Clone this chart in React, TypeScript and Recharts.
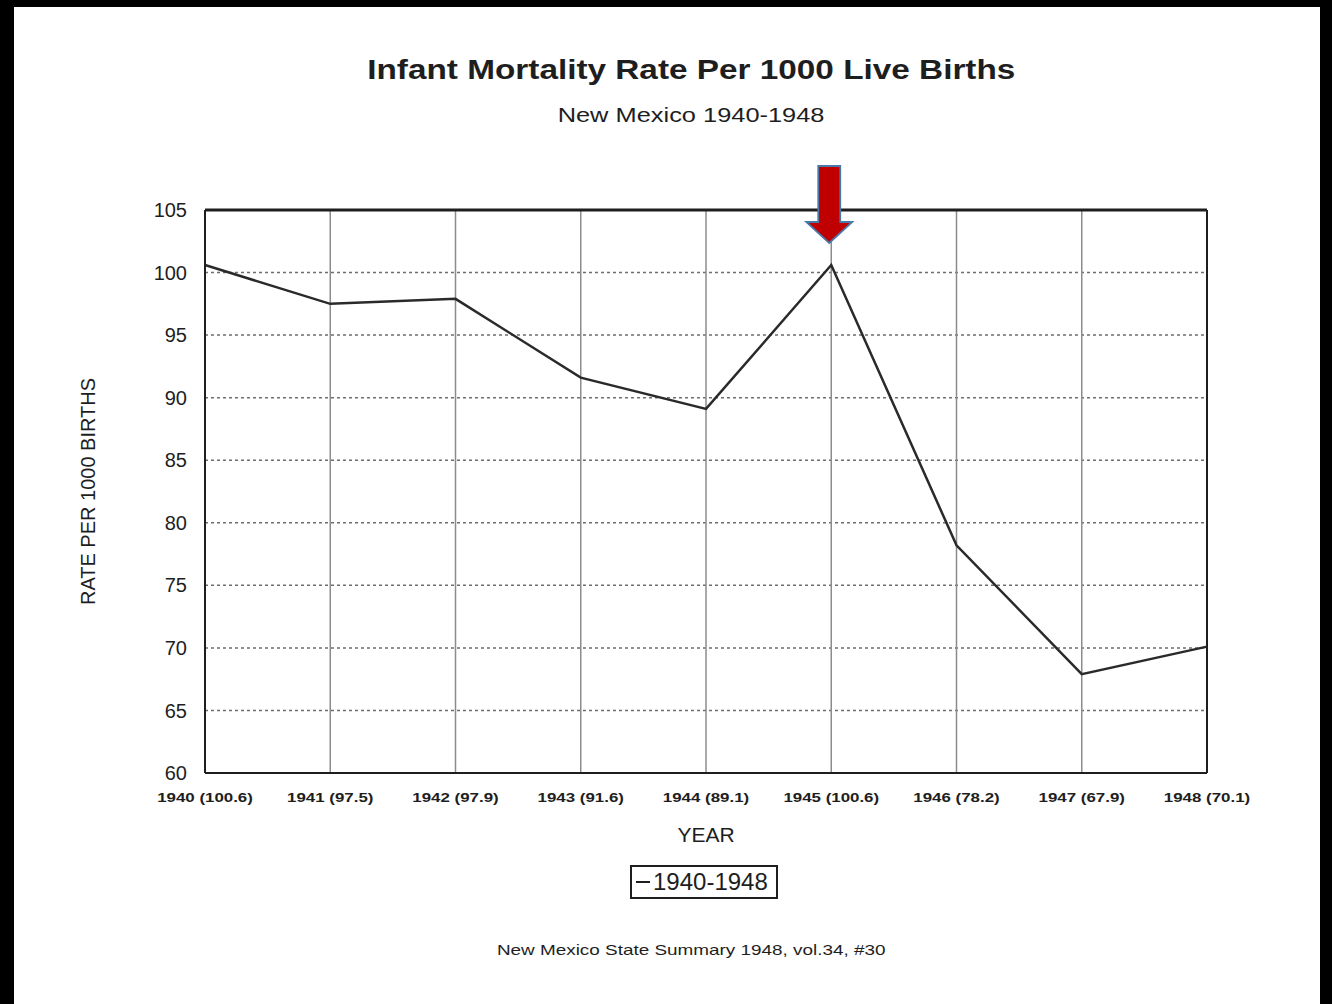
import React from "react";
import {
  LineChart, Line, XAxis, YAxis, CartesianGrid, ReferenceLine, ReferenceDot, Legend,
} from "recharts";

const YEARS = ["1940", "1941", "1942", "1943", "1944", "1945", "1946", "1947", "1948"];
const RATES = [100.6, 97.5, 97.9, 91.6, 89.1, 100.6, 78.2, 67.9, 70.1];
const Y_TICKS = [60, 65, 70, 75, 80, 85, 90, 95, 100, 105];

const data = YEARS.map((y, i) => ({ label: `${y} (${RATES[i]})`, rate: RATES[i] }));

const FONT = '"Liberation Sans", Arial, sans-serif';
const INK = "#1e1e1e";

function XTick({ x, y, payload }: any) {
  return (
    <g transform={`translate(${x},${y})`}>
      <text transform="scale(1.3,1)" x={0} y={21} textAnchor="middle" fontSize={13} fontWeight={700} fill={INK} fontFamily={FONT}>
        {payload.value}
      </text>
    </g>
  );
}

function Arrow({ cx, cy }: any) {
  const c = cx - 2;
  const pts = [
    [c - 11, cy - 44], [c + 11, cy - 44], [c + 11, cy + 12], [c + 23, cy + 12],
    [c, cy + 33], [c - 23, cy + 12], [c - 11, cy + 12],
  ].map(p => p.join(",")).join(" ");
  return <polygon points={pts} fill="#c00000" stroke="#4a78a8" strokeWidth={1.8} />;
}

function LegendBox() {
  return (
    <div style={{
      display: "flex", alignItems: "center", border: `2px solid ${INK}`, width: 144, height: 30,
      fontFamily: FONT, fontSize: 24, color: INK, background: "#fff", boxSizing: "content-box",
    }}>
      <span style={{ width: 14, height: 2, background: INK, margin: "0 3px 0 4px", display: "inline-block" }} />
      <span>1940-1948</span>
    </div>
  );
}

function Stretch({ top, size, weight, scale, children }: any) {
  return (
    <div style={{ position: "absolute", top, left: 0, width: 1382, textAlign: "center", fontFamily: FONT, color: INK }}>
      <span style={{ display: "inline-block", fontSize: size, fontWeight: weight, transform: `scaleX(${scale})`, whiteSpace: "nowrap" }}>
        {children}
      </span>
    </div>
  );
}

export default function App() {
  return (
    <div style={{ position: "absolute", left: 0, top: 0, width: 1332, height: 1004, background: "#000", overflow: "hidden" }}>
      <div style={{ position: "absolute", left: 14, top: 7, width: 1306, height: 997, background: "#fff" }} />

      <Stretch top={54} size={28} weight={700} scale={1.19}>Infant Mortality Rate Per 1000 Live Births</Stretch>
      <Stretch top={104} size={20} weight={400} scale={1.27}>New Mexico 1940-1948</Stretch>
      <Stretch top={941} size={15} weight={400} scale={1.26}>New Mexico State Summary 1948, vol.34, #30</Stretch>

      <div style={{ position: "absolute", left: 0, top: 0 }}>
        <LineChart width={1332} height={1004} data={data} margin={{ top: 210, right: 125, bottom: 167, left: 135 }}>
          <CartesianGrid horizontal vertical={false} stroke="#6e6e6e" strokeWidth={1.5} strokeDasharray="3 3" />
          <CartesianGrid horizontal={false} vertical stroke="#8c8c8c" strokeWidth={1.5} />
          <XAxis
            dataKey="label" height={30} tick={<XTick />} tickLine={false}
            axisLine={{ stroke: INK, strokeWidth: 2 }} interval={0}
            label={{ value: "YEAR", position: "insideBottom", offset: -39, fontSize: 21, fill: INK, fontFamily: FONT }}
          />
          <YAxis
            width={70} domain={[60, 105]} ticks={Y_TICKS} tickLine={false} tickMargin={12}
            axisLine={{ stroke: INK, strokeWidth: 2 }}
            tick={{ fontSize: 20, fill: INK, fontFamily: FONT }}
            label={{ value: "RATE PER 1000 BIRTHS", angle: -90, position: "insideLeft", offset: -47, fontSize: 20, fill: INK, fontFamily: FONT, style: { textAnchor: "middle" } }}
          />
          <ReferenceLine y={105} stroke={INK} strokeWidth={3} />
          <ReferenceLine x={data[data.length - 1].label} stroke={INK} strokeWidth={2} />
          <Line type="linear" dataKey="rate" stroke="#2a2a2a" strokeWidth={2.5} dot={false} isAnimationActive={false} />
          <ReferenceDot x={data[5].label} y={105} shape={<Arrow />} />
          <Legend content={<LegendBox />} wrapperStyle={{ position: "absolute", top: 865, left: 630, width: 148 }} />
        </LineChart>
      </div>
    </div>
  );
}
